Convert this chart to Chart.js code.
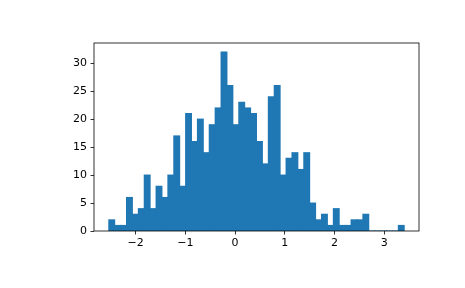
<!DOCTYPE html>
<html>
<head>
<meta charset="utf-8">
<script src="https://cdn.jsdelivr.net/npm/chart.js@4/dist/chart.umd.min.js"></script>
<style>
  html, body { margin: 0; padding: 0; background: #fff; }
  #wrap { width: 465px; height: 288px; }
</style>
</head>
<body>
<div id="wrap"><canvas id="chart" width="465" height="288"></canvas></div>
<script>
// histogram: 50 equal bins between these edges
const binLow = -2.54;
const binHigh = 3.40;
const counts = [
    2, 1, 1, 6, 3, 4, 10, 4, 8, 6,
    10, 17, 8, 21, 16, 20, 14, 19, 22, 32,
    26, 19, 23, 22, 21, 16, 12, 24, 26, 10,
    13, 14, 11, 14, 5, 2, 3, 1, 4, 1,
    1, 2, 2, 3, 0, 0, 0, 0, 0, 1
];
const xTickValues = [-2, -1, 0, 1, 2, 3];
const yTickValues = [0, 5, 10, 15, 20, 25, 30];

const BAR_COLOR = "#1f77b4";

const binWidth = (binHigh - binLow) / counts.length;
const points = counts.map((c, i) => ({ x: binLow + (i + 0.5) * binWidth, y: c }));
const span = binHigh - binLow;

// matplotlib-style closed axes box
const frameBox = {
    id: "frameBox",
    afterDraw(chart) {
        const { ctx, chartArea: a } = chart;
        ctx.save();
        ctx.strokeStyle = "#000";
        ctx.lineWidth = 0.8;
        ctx.strokeRect(a.left, a.top, a.right - a.left, a.bottom - a.top);
        ctx.restore();
    }
};

const tickFont = { family: "DejaVu Sans", size: 11 };
const fmt = (v) => String(v).replace("-", "\u2212");

new Chart(document.getElementById("chart"), {
    type: "bar",
    data: {
        datasets: [{
            data: points,
            backgroundColor: BAR_COLOR,
            borderColor: BAR_COLOR,
            borderWidth: 0,
            inflateAmount: 0.5,
            barPercentage: 1.0,
            categoryPercentage: 1.0
        }]
    },
    options: {
        responsive: false,
        animation: false,
        layout: { padding: { top: 43, right: 46, left: 0, bottom: 0 } },
        plugins: { legend: { display: false }, tooltip: { enabled: false } },
        scales: {
            x: {
                type: "linear",
                offset: false,
                min: binLow - span * 0.05,
                max: binHigh + span * 0.05,
                afterBuildTicks: (s) => { s.ticks = xTickValues.map((v) => ({ value: v })); },
                afterFit: (s) => { s.height = 57; },
                grid: { offset: false, drawOnChartArea: false, tickLength: 3.5, tickColor: "#000", tickWidth: 0.8 },
                border: { display: false },
                ticks: {
                    color: "#000", font: tickFont, padding: 2, maxRotation: 0,
                    autoSkip: false, includeBounds: false,
                    callback: (v) => fmt(v)
                }
            },
            y: {
                min: 0,
                max: 33.6,
                afterBuildTicks: (s) => { s.ticks = yTickValues.map((v) => ({ value: v })); },
                afterFit: (s) => { s.width = 94; },
                grid: { offset: false, drawOnChartArea: false, tickLength: 3.5, tickColor: "#000", tickWidth: 0.8 },
                border: { display: false },
                ticks: { color: "#000", font: tickFont, padding: 3.5, autoSkip: false, includeBounds: false }
            }
        }
    },
    plugins: [frameBox]
});
</script>
</body>
</html>
